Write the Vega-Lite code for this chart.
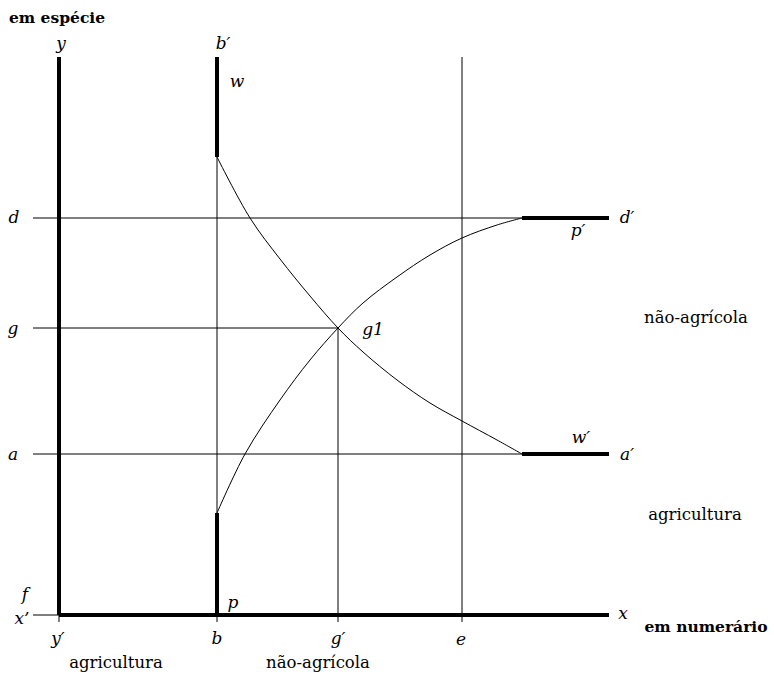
{
  "$schema": "https://vega.github.io/schema/vega-lite/v6.json",
  "width": 774,
  "height": 674,
  "padding": 0,
  "autosize": {"type": "fit", "contains": "padding"},
  "background": "white",
  "config": {"view": {"stroke": null}},
  "datasets": {
    "thick": [
      {"x": 0, "y": 0, "x2": 0, "y2": 558},
      {"x": 0, "y": 0, "x2": 550, "y2": 0},
      {"x": 158, "y": 458, "x2": 158, "y2": 558},
      {"x": 158, "y": 0, "x2": 158, "y2": 102},
      {"x": 463, "y": 397, "x2": 550, "y2": 397},
      {"x": 463, "y": 161, "x2": 550, "y2": 161}
    ],
    "thin": [
      {"x": -26, "y": 0, "x2": 0, "y2": 0},
      {"x": 158, "y": 102, "x2": 158, "y2": 458},
      {"x": -26, "y": 397, "x2": 463, "y2": 397},
      {"x": -26, "y": 287, "x2": 279, "y2": 287},
      {"x": -26, "y": 161, "x2": 463, "y2": 161},
      {"x": 279, "y": -7, "x2": 279, "y2": 287},
      {"x": 403, "y": -7, "x2": 403, "y2": 558},
      {"x": 0, "y": -7, "x2": 0, "y2": 0},
      {"x": 158, "y": -7, "x2": 158, "y2": 0}
    ],
    "curves": [
      {"curve": "w", "x": 158, "y": 458},
      {"curve": "w", "x": 191, "y": 397},
      {"curve": "w", "x": 221, "y": 356},
      {"curve": "w", "x": 251, "y": 319},
      {"curve": "w", "x": 279, "y": 287},
      {"curve": "w", "x": 304, "y": 263},
      {"curve": "w", "x": 338, "y": 235},
      {"curve": "w", "x": 371, "y": 212},
      {"curve": "w", "x": 403, "y": 194},
      {"curve": "w", "x": 438, "y": 175},
      {"curve": "w", "x": 463, "y": 161},
      {"curve": "p", "x": 158, "y": 102},
      {"curve": "p", "x": 186, "y": 161},
      {"curve": "p", "x": 221, "y": 215},
      {"curve": "p", "x": 251, "y": 255},
      {"curve": "p", "x": 279, "y": 287},
      {"curve": "p", "x": 304, "y": 312},
      {"curve": "p", "x": 338, "y": 338},
      {"curve": "p", "x": 371, "y": 360},
      {"curve": "p", "x": 403, "y": 377},
      {"curve": "p", "x": 438, "y": 390},
      {"curve": "p", "x": 463, "y": 397}
    ],
    "italic": [
      {"label": "y", "x": 2, "y": 571},
      {"label": "b′", "x": 164, "y": 571},
      {"label": "w", "x": 178, "y": 533},
      {"label": "d", "x": -45, "y": 397},
      {"label": "g", "x": -46, "y": 286},
      {"label": "a", "x": -46, "y": 160},
      {"label": "f", "x": -34, "y": 20},
      {"label": "x’", "x": -37, "y": -4},
      {"label": "p", "x": 174, "y": 12},
      {"label": "y′", "x": -1, "y": -24},
      {"label": "b", "x": 158, "y": -24},
      {"label": "g′", "x": 279, "y": -24},
      {"label": "e", "x": 402, "y": -25},
      {"label": "x", "x": 564, "y": 1},
      {"label": "d′", "x": 568, "y": 397},
      {"label": "p′", "x": 519, "y": 384},
      {"label": "w′", "x": 522, "y": 177},
      {"label": "a′", "x": 568, "y": 160},
      {"label": "g1", "x": 314, "y": 285}
    ],
    "roman": [
      {"label": "agricultura", "x": 57, "y": -48},
      {"label": "não-agrícola", "x": 259, "y": -48},
      {"label": "não-agrícola", "x": 637, "y": 297},
      {"label": "agricultura", "x": 636, "y": 100}
    ],
    "bold": [
      {"label": "em espécie", "x": -2, "y": 597},
      {"label": "em numerário", "x": 647, "y": -12}
    ]
  },
  "encoding": {
    "x": {"field": "x", "type": "quantitative", "scale": {"domain": [-59, 715], "nice": false, "zero": false}, "axis": null},
    "y": {"field": "y", "type": "quantitative", "scale": {"domain": [-59, 615], "nice": false, "zero": false}, "axis": null}
  },
  "layer": [
    {
      "data": {"name": "thin"},
      "mark": {"type": "rule", "color": "black", "strokeWidth": 1},
      "encoding": {"x2": {"field": "x2"}, "y2": {"field": "y2"}}
    },
    {
      "data": {"name": "curves"},
      "mark": {"type": "line", "color": "black", "strokeWidth": 1, "interpolate": "catmull-rom"},
      "encoding": {"detail": {"field": "curve"}, "order": {"field": "x", "type": "quantitative"}}
    },
    {
      "data": {"name": "thick"},
      "mark": {"type": "rule", "color": "black", "strokeWidth": 4},
      "encoding": {"x2": {"field": "x2"}, "y2": {"field": "y2"}}
    },
    {
      "data": {"name": "italic"},
      "mark": {"type": "text", "font": "DejaVu Serif", "fontStyle": "italic", "fontSize": 17, "align": "center", "baseline": "middle", "color": "black"},
      "encoding": {"text": {"field": "label"}}
    },
    {
      "data": {"name": "roman"},
      "mark": {"type": "text", "font": "DejaVu Serif", "fontSize": 16.5, "align": "center", "baseline": "middle", "color": "black"},
      "encoding": {"text": {"field": "label"}}
    },
    {
      "data": {"name": "bold"},
      "mark": {"type": "text", "font": "DejaVu Serif", "fontWeight": "bold", "fontSize": 15.5, "align": "center", "baseline": "middle", "color": "black"},
      "encoding": {"text": {"field": "label"}}
    }
  ]
}
